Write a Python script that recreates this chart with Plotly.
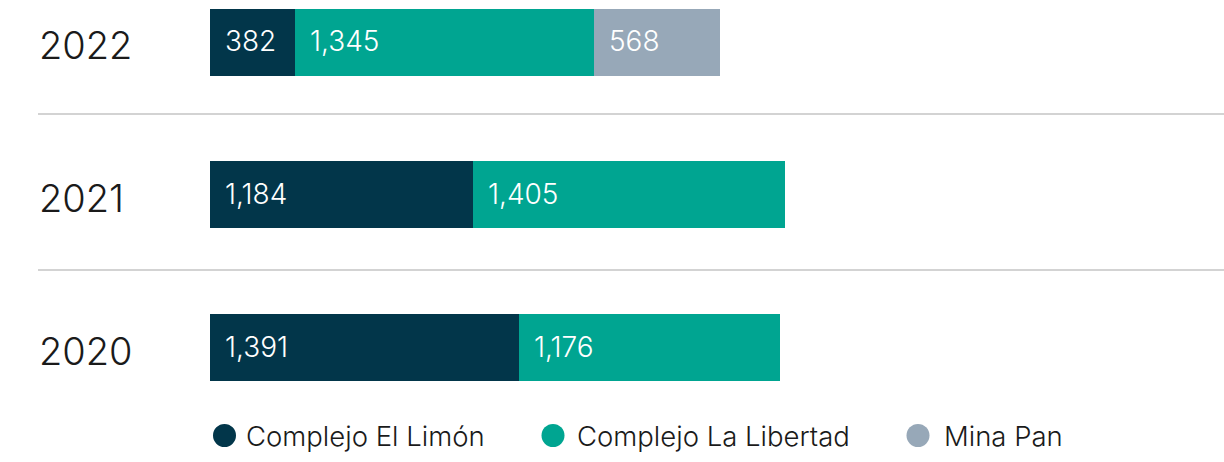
import plotly.graph_objects as go

years = ["2020", "2021", "2022"]
series_names = ["Complejo El Limón", "Complejo La Libertad", "Mina Pan"]
el_limon = [1391, 1184, 382]
la_libertad = [1176, 1405, 1345]
mina_pan = [0, 0, 568]
colors = ["#02364A", "#00A591", "#97A8B8"]

series = [el_limon, la_libertad, mina_pan]

W, H = 1224, 462
L, T, PW, PH = 210, 0, 1014, 400
FONT = "Inter"

def px_x(px):
    return (px - L) / PW

def px_y(py):
    return 1 - (py - T) / PH

ppu_y = (347.5 - 42) / 2
y_top = 2 + 42 / ppu_y
y_bot = 0 - (PH - 347.5) / ppu_y

ypos = list(range(len(years)))
fig = go.Figure()
for name, vals, col in zip(series_names, series, colors):
    fig.add_trace(go.Bar(
        x=vals, y=ypos, orientation="h", name=name,
        marker=dict(color=col, line=dict(width=0)),
        width=67 / ppu_y, showlegend=False, hoverinfo="x+name",
    ))

annotations = []
for i in range(len(years)):
    base = 0
    for vals in series:
        v = vals[i]
        if v > 0:
            annotations.append(dict(
                x=base, y=ypos[i], xref="x", yref="y", text=f"{v:,}",
                showarrow=False, xanchor="left", yanchor="middle", xshift=13, yshift=1,
                font=dict(family=FONT, size=28, color="white", weight=300),
            ))
        base += v

for i, yr in enumerate(years):
    annotations.append(dict(
        x=px_x(37), y=ypos[i], xref="paper", yref="y", text=yr,
        showarrow=False, xanchor="left", yanchor="middle", yshift=-3,
        font=dict(family=FONT, size=38, color="#1a1a1a", weight=300),
    ))

shapes = []
for py in (114, 270):
    shapes.append(dict(type="line", xref="paper", yref="paper",
                       x0=px_x(38), x1=1, y0=px_y(py), y1=px_y(py),
                       line=dict(color="#D3D3D3", width=2)))

leg_circles = [224.5, 553, 918]
leg_text_x = [244, 575, 942]
leg_y = 435.5
for cx, tx, name, col in zip(leg_circles, leg_text_x, series_names, colors):
    shapes.append(dict(type="circle", xref="paper", yref="paper",
                       xsizemode="pixel", ysizemode="pixel",
                       xanchor=px_x(cx), yanchor=px_y(leg_y),
                       x0=-11.5, x1=11.5, y0=-11.5, y1=11.5,
                       fillcolor=col, line=dict(width=0)))
    annotations.append(dict(
        x=px_x(tx), y=px_y(leg_y), xref="paper", yref="paper", text=name,
        showarrow=False, xanchor="left", yanchor="middle",
        font=dict(family=FONT, size=27.5, color="#1a1a1a", weight=300),
    ))

px_per_unit = 0.2222
fig.update_layout(
    width=W, height=H, barmode="stack",
    margin=dict(l=L, r=W - L - PW, t=T, b=H - T - PH, pad=0),
    paper_bgcolor="white", plot_bgcolor="white",
    xaxis=dict(range=[0, PW / px_per_unit], visible=False, fixedrange=True),
    yaxis=dict(range=[y_bot, y_top], visible=False, fixedrange=True),
    annotations=annotations, shapes=shapes,
    font=dict(family=FONT),
)

fig.write_html("out.html",
               config={"displayModeBar": False},
               post_script="document.body.style.margin='0';document.body.style.overflow='hidden';")
